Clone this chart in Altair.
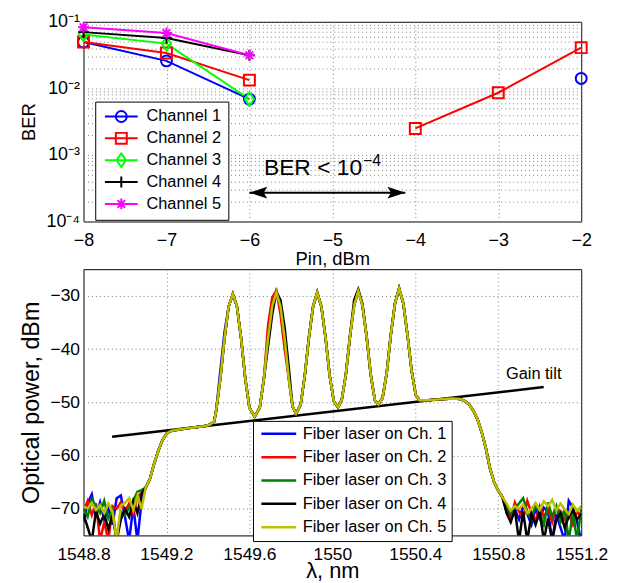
import altair as alt
import pandas as pd

FONT = "Liberation Sans"

# ---------------- top panel: BER vs input power ----------------
channels = ["Channel 1", "Channel 2", "Channel 3", "Channel 4", "Channel 5"]
channel_colors = ["#0000ff", "#ff0000", "#00ff00", "#000000", "#ff00ff"]

ch1_pin = [-8, -7, -6, -2]
ch1_ber = [0.0497, 0.0259, 0.0069, 0.0141]
ch1_seg = [1, 1, 1, 2]
ch2_pin = [-8, -7, -6, -4, -3, -2]
ch2_ber = [0.0497, 0.034, 0.0133, 0.0025, 0.0086, 0.0409]
ch2_seg = [1, 1, 1, 2, 2, 2]
ch3_pin = [-8, -7, -6]
ch3_ber = [0.0647, 0.047, 0.0069]
ch3_seg = [1, 1, 1]
ch4_pin = [-8, -7, -6]
ch4_ber = [0.070, 0.057, 0.0314]
ch4_seg = [1, 1, 1]
ch5_pin = [-8, -7, -6]
ch5_ber = [0.083, 0.0677, 0.0314]
ch5_seg = [1, 1, 1]

top_x_ticks = [-8, -7, -6, -5, -4, -3, -2]
ber_major = [1e-4, 1e-3, 1e-2, 1e-1]
ber_minor = [2e-4, 3e-4, 4e-4, 5e-4, 6e-4, 7e-4, 8e-4, 9e-4,
             2e-3, 3e-3, 4e-3, 5e-3, 6e-3, 7e-3, 8e-3, 9e-3,
             2e-2, 3e-2, 4e-2, 5e-2, 6e-2, 7e-2, 8e-2, 9e-2]

arrow_pin = [-6.0, -4.12]
arrow_ber = [2.71e-4, 2.71e-4]
ann_main = {"pin": -5.825, "ber": 4.98e-4, "label": "BER < 10"}
ann_sup = {"pin": -4.63, "ber": 6.77e-4, "label": "\u22124"}

marker_shapes = [
    "circle",
    "square",
    "M0,-1.25L0.85,0L0,1.25L-0.85,0Z",
    "M-1,0L1,0M0,-1L0,1",
    "M-1,0L1,0M0,-1L0,1M-0.7,-0.7L0.7,0.7M-0.7,0.7L0.7,-0.7",
]
legend_line = "M-3,0L3,0"
legend_shapes = [
    legend_line + "M1,0A1,1,0,1,1,-1,0A1,1,0,1,1,1,0",
    legend_line + "M-1,-1L1,-1L1,1L-1,1Z",
    legend_line + "M0,-1.25L0.85,0L0,1.25L-0.85,0Z",
    legend_line + "M0,-1L0,1",
    legend_line + "M0,-1L0,1M-0.7,-0.7L0.7,0.7M-0.7,0.7L0.7,-0.7",
]

rows = []
for name, pins, bers, segs in [
    ("Channel 1", ch1_pin, ch1_ber, ch1_seg),
    ("Channel 2", ch2_pin, ch2_ber, ch2_seg),
    ("Channel 3", ch3_pin, ch3_ber, ch3_seg),
    ("Channel 4", ch4_pin, ch4_ber, ch4_seg),
    ("Channel 5", ch5_pin, ch5_ber, ch5_seg),
]:
    for p, b, s in zip(pins, bers, segs):
        rows.append({"channel": name, "pin": p, "ber": b, "seg": f"{name}-{s}"})
top_df = pd.DataFrame(rows)

# ---------------- bottom panel: optical spectra ----------------
fibers = ["Fiber laser on Ch. 1", "Fiber laser on Ch. 2", "Fiber laser on Ch. 3",
          "Fiber laser on Ch. 4", "Fiber laser on Ch. 5"]
fiber_colors = ["#0000ff", "#ff0000", "#008000", "#000000", "#bfbf00"]

wl_left = [1548.80, 1548.82, 1548.84, 1548.86, 1548.88, 1548.90, 1548.92, 1548.94,
           1548.96, 1548.98, 1549.00, 1549.02, 1549.04, 1549.06, 1549.08]
left_noise = [
    [-72.5, -69.0, -67.3, -71.5, -68.8, -72.0, -70.0, -73.0, -68.0, -67.5, -71.5, -76.0, -69.5, -76.0, -68.5],
    [-70.5, -68.5, -71.2, -69.0, -76.0, -72.5, -76.0, -69.5, -70.0, -68.8, -70.5, -69.0, -71.0, -67.8, -67.0],
    [-70.0, -71.5, -68.2, -69.5, -70.8, -68.5, -71.8, -70.2, -76.0, -70.5, -71.2, -69.8, -68.5, -66.8, -66.5],
    [-71.0, -73.5, -76.0, -70.5, -72.8, -71.0, -73.8, -71.2, -76.0, -72.0, -70.0, -71.5, -68.5, -70.8, -67.2],
    [-69.6, -69.9, -68.9, -70.2, -69.3, -70.8, -69.0, -70.6, -76.0, -69.4, -68.9, -68.0, -70.2, -67.5, -70.0],
]

core_wl = [1549.10, 1549.12, 1549.14, 1549.16, 1549.18, 1549.20, 1549.22, 1549.26, 1549.30, 1549.34,
           1549.38, 1549.41, 1549.43,
           1549.44, 1549.46, 1549.48, 1549.50, 1549.52, 1549.54, 1549.56, 1549.58, 1549.60, 1549.625,
           1549.65, 1549.67, 1549.69, 1549.71, 1549.73, 1549.75, 1549.77, 1549.79, 1549.808, 1549.825,
           1549.847, 1549.867, 1549.887, 1549.907, 1549.927, 1549.947, 1549.967, 1549.987, 1550.007, 1550.027,
           1550.045, 1550.065, 1550.085, 1550.105, 1550.125, 1550.145, 1550.165, 1550.185, 1550.205, 1550.222,
           1550.242, 1550.262, 1550.282, 1550.302, 1550.322, 1550.342, 1550.362, 1550.382, 1550.402, 1550.42,
           1550.46, 1550.50, 1550.54, 1550.58, 1550.62, 1550.64, 1550.66, 1550.68, 1550.70, 1550.72,
           1550.74, 1550.76, 1550.78, 1550.80, 1550.82]
core_db = [-66.0, -64.4, -61.6, -59.2, -57.2, -55.9, -55.4, -55.1, -54.9, -54.7,
           -54.5, -54.2, -53.6,
           -51.5, -45.5, -38.0, -32.0, -29.7, -32.0, -38.0, -45.5, -51.0, -52.7,
           -51.0, -45.5, -38.0, -32.0, -29.3, -32.0, -38.0, -45.5, -50.8, -52.1,
           -50.5, -45.0, -37.8, -32.0, -29.4, -32.0, -37.8, -45.0, -49.8, -50.9,
           -49.6, -44.8, -37.6, -31.8, -29.1, -31.8, -37.6, -44.8, -49.6, -50.4,
           -49.2, -44.5, -37.3, -31.4, -28.6, -31.4, -37.3, -44.0, -48.6, -49.6,
           -49.6, -49.5, -49.4, -49.3, -49.4, -49.8, -50.4, -51.6, -53.2, -55.6,
           -58.6, -62.4, -65.0, -66.6, -67.8]
core_overrides = [
    {1549.46: -44.0, 1549.48: -36.8},
    {1549.69: -35.5, 1549.71: -30.3, 1549.73: -29.0, 1549.75: -33.5, 1549.77: -40.0},
    {},
    {1549.69: -39.5, 1549.71: -33.5, 1549.73: -29.2, 1549.75: -30.8, 1549.77: -36.0,
     1549.79: -43.5, 1550.105: -30.8, 1550.125: -28.8, 1550.145: -31.5},
    {},
]

wl_right = [1550.84, 1550.86, 1550.88, 1550.90, 1550.92, 1550.94, 1550.96, 1550.98, 1551.00, 1551.02,
            1551.04, 1551.06, 1551.08, 1551.10, 1551.12, 1551.14, 1551.16, 1551.18, 1551.20]
right_noise = [
    [-69.8, -71.5, -70.0, -72.0, -69.5, -71.0, -73.0, -70.0, -71.8, -69.8, -70.5, -76.0, -71.0, -73.5, -76.0, -68.5, -69.8, -72.5, -76.0],
    [-70.5, -72.0, -68.8, -70.5, -71.8, -68.5, -70.8, -72.2, -69.5, -71.5, -70.0, -72.5, -69.8, -70.5, -72.0, -71.0, -73.0, -70.5, -71.5],
    [-69.5, -70.8, -70.0, -69.0, -68.0, -70.5, -72.0, -69.2, -70.8, -73.0, -68.8, -71.5, -69.5, -72.5, -70.0, -76.0, -70.5, -76.0, -70.0],
    [-70.8, -72.5, -70.2, -76.0, -70.5, -76.0, -71.0, -73.0, -70.5, -76.0, -71.8, -76.0, -72.0, -70.8, -73.5, -71.5, -70.2, -72.0, -71.0],
    [-69.0, -70.3, -69.5, -70.0, -69.2, -70.8, -70.0, -68.9, -70.2, -68.6, -69.5, -68.3, -70.3, -69.0, -70.1, -71.0, -69.2, -70.4, -69.5],
]

bot_x_ticks = [1548.8, 1549.2, 1549.6, 1550.0, 1550.4, 1550.8, 1551.2]
bot_y_ticks = [-70, -60, -50, -40, -30]
tilt_wl = [1548.938, 1551.019]
tilt_db = [-56.49, -47.14]
tilt_label = {"wl": 1550.837, "db": -45.7, "label": "Gain tilt"}

spec_rows = []
for i, name in enumerate(fibers):
    core = [core_overrides[i].get(w, d) for w, d in zip(core_wl, core_db)]
    wls = wl_left + core_wl + wl_right
    dbs = left_noise[i] + core + right_noise[i]
    for w, d in zip(wls, dbs):
        spec_rows.append({"series": name, "wl": w, "db": d})
spec_df = pd.DataFrame(spec_rows)

# ---------------- top chart ----------------
y_label_expr = ("abs(log(datum.value)/LN10 - round(log(datum.value)/LN10)) < 0.001 ? "
                "'10' + ['', '\u207b\u00b9', '\u207b\u00b2', '\u207b\u00b3', '\u207b\u2074']"
                "[-round(log(datum.value)/LN10)] : ''")

x_top = alt.X("pin:Q", scale=alt.Scale(domain=[-8, -2], nice=False, zero=False),
              axis=alt.Axis(values=top_x_ticks, format="d", title="Pin, dBm",
                            labelFontSize=18, titleFontSize=18.5,
                            labelFlush=False, labelOverlap=False, labelPadding=10, titlePadding=0))
y_top = alt.Y("ber:Q", scale=alt.Scale(type="log", domain=[1e-4, 1e-1], nice=False),
              axis=alt.Axis(values=ber_major + ber_minor, labelExpr=y_label_expr, title="BER",
                            labelFontSize=18, titleFontSize=18.5,
                            labelOverlap=False, labelPadding=4, titlePadding=8))
color_top = alt.Scale(domain=channels, range=channel_colors)

top_lines = alt.Chart(top_df).mark_line(strokeWidth=2).encode(
    x=x_top, y=y_top,
    color=alt.Color("channel:N", scale=color_top, legend=None),
    detail="seg:N")
top_points = alt.Chart(top_df).mark_point(filled=False, strokeWidth=2, size=121, opacity=1).encode(
    x=x_top, y=y_top,
    color=alt.Color("channel:N", scale=color_top, legend=None),
    shape=alt.Shape("channel:N", scale=alt.Scale(domain=channels, range=marker_shapes), legend=None))

leg_top = alt.Legend(title=None, orient="none", legendX=11.8, legendY=80.3, padding=7,
                     fillColor="white", strokeColor="black", cornerRadius=0,
                     symbolSize=121, symbolStrokeWidth=2, clipHeight=16, rowPadding=5,
                     symbolOffset=11, labelOffset=17, labelFont=FONT, labelFontSize=16.5,
                     labelColor="black")
top_legend = alt.Chart(top_df).transform_filter("false").mark_point(
    filled=False, strokeWidth=2, size=121, opacity=1).encode(
    color=alt.Color("channel:N", scale=color_top, legend=leg_top),
    shape=alt.Shape("channel:N", scale=alt.Scale(domain=channels, range=legend_shapes), legend=leg_top))

arrow_df = pd.DataFrame({"pin": arrow_pin, "ber": arrow_ber})
arrow_line = alt.Chart(arrow_df).mark_line(color="black", strokeWidth=2).encode(x=x_top, y=y_top)
arrow_left = alt.Chart(arrow_df.iloc[[0]]).mark_point(
    shape="M0,0L2,-0.65L1.6,0L2,0.65Z", filled=True, color="black", size=324, opacity=1
).encode(x=x_top, y=y_top)
arrow_right = alt.Chart(arrow_df.iloc[[1]]).mark_point(
    shape="M0,0L-2,-0.65L-1.6,0L-2,0.65Z", filled=True, color="black", size=324, opacity=1
).encode(x=x_top, y=y_top)
ann1 = alt.Chart(pd.DataFrame([ann_main])).mark_text(
    align="left", baseline="alphabetic", font=FONT, fontSize=23, color="black"
).encode(x=x_top, y=y_top, text="label:N")
ann2 = alt.Chart(pd.DataFrame([ann_sup])).mark_text(
    align="left", baseline="alphabetic", font=FONT, fontSize=16, color="black"
).encode(x=x_top, y=y_top, text="label:N")

top = alt.layer(top_lines, top_points, top_legend, arrow_line, arrow_left, arrow_right, ann1, ann2
                ).resolve_scale(color="independent", shape="independent"
                ).properties(width=501, height=201)

# ---------------- bottom chart ----------------
x_bot = alt.X("wl:Q", scale=alt.Scale(domain=[1548.8, 1551.2], nice=False, zero=False),
              axis=alt.Axis(values=bot_x_ticks, format=".1~f", title="\u03bb, nm", titleFontSize=22,
                            labelFontSize=17.5,
                            labelFlush=False, labelOverlap=False, labelPadding=10, titlePadding=-2))
y_bot = alt.Y("db:Q", scale=alt.Scale(domain=[-75, -25], nice=False, zero=False),
              axis=alt.Axis(values=bot_y_ticks, format="d", title="Optical power, dBm", titleFontSize=23.5,
                            labelFontSize=17.5, labelPadding=4, titlePadding=7))

leg_bot = alt.Legend(title=None, orient="none", legendX=170.6, legendY=152.7, padding=5,
                     fillColor="white", strokeColor="black", cornerRadius=0,
                     symbolType="stroke", symbolSize=1225, symbolStrokeWidth=2.5, clipHeight=16,
                     rowPadding=6.5, symbolOffset=2, labelOffset=5, labelFont=FONT,
                     labelFontSize=16.5, labelColor="black", labelLimit=300)

tilt_df = pd.DataFrame({"wl": tilt_wl, "db": tilt_db})
tilt_line = alt.Chart(tilt_df).mark_line(color="black", strokeWidth=2.5).encode(x=x_bot, y=y_bot)
spectra = alt.Chart(spec_df).mark_line(strokeWidth=2.5, clip=True).encode(
    x=x_bot, y=y_bot,
    color=alt.Color("series:N", scale=alt.Scale(domain=fibers, range=fiber_colors), legend=leg_bot))
tilt_text = alt.Chart(pd.DataFrame([tilt_label])).mark_text(
    align="left", baseline="alphabetic", font=FONT, fontSize=16.5, color="black"
).encode(x=x_bot, y=y_bot, text="label:N")

bottom = alt.layer(tilt_line, spectra, tilt_text).properties(width=501, height=268)

chart = alt.vconcat(top, bottom, spacing=0).resolve_scale(
    x="independent", y="independent", color="independent", shape="independent"
).properties(
    padding={"left": 10, "top": 2, "right": 4, "bottom": 0},
    background="white",
).configure_view(
    stroke="black", strokeWidth=1
).configure_axis(
    labelFont=FONT, labelFontSize=17, labelColor="black",
    titleFont=FONT, titleFontSize=17, titleFontWeight="normal", titleColor="black",
    ticks=False, tickSize=0, domain=False,
    grid=True, gridColor="#808080", gridDash=[1, 3], gridWidth=1, gridOpacity=1,
).configure_legend(labelFont=FONT)

chart.save("out.html", embed_options={"renderer": "svg", "actions": False})
